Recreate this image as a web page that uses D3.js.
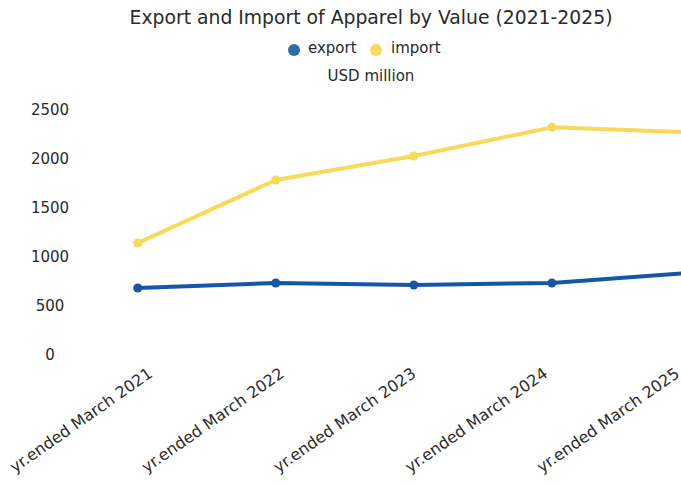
<!DOCTYPE html>
<html><head><meta charset="utf-8">
<script src="https://cdn.jsdelivr.net/npm/d3@7"></script>
<style>body{margin:0;background:#fff;overflow:hidden}svg{display:block;font-family:"DejaVu Sans",Verdana,sans-serif}</style>
</head><body><svg id="c" width="681" height="485"></svg>
<script>
const categories = ["yr.ended March 2021","yr.ended March 2022","yr.ended March 2023","yr.ended March 2024","yr.ended March 2025"];
const exportValues = [684, 735, 714, 735, 838];
const importValues = [1143, 1786, 2031, 2323, 2272];
const yTicks = [0, 500, 1000, 1500, 2000, 2500];
const seriesNames = ["export", "import"];
const lineColors = ["#1655a8", "#f7da58"];
const legendColors = ["#2e6ba9", "#f7dc5c"];

const svg = d3.select("#c");
const x = d3.scalePoint().domain(categories).range([137.7, 690]);
const xLabel = d3.scalePoint().domain(categories).range([153, 680]);
const y = d3.scaleLinear().domain([0, 2500]).range([355, 110]);
const txt = "#2a2a2a";

svg.append("text").attr("x", 371).attr("y", 24).attr("text-anchor", "middle")
  .attr("font-size", 18.8).attr("fill", txt).text("Export and Import of Apparel by Value (2021-2025)");

// legend
const lg = svg.append("g");
const legendPos = [[294, 308], [376, 391]];
seriesNames.forEach((n, i) => {
  lg.append("circle").attr("cx", legendPos[i][0]).attr("cy", 50).attr("r", 6).attr("fill", legendColors[i]);
  lg.append("text").attr("x", legendPos[i][1]).attr("y", 53).attr("font-size", 15).attr("fill", txt).text(n);
});
svg.append("text").attr("x", 371).attr("y", 81).attr("text-anchor", "middle").attr("font-size", 15).attr("fill", txt).text("USD million");

// y axis
const yAxis = svg.append("g").attr("transform", "translate(50,0)")
  .call(d3.axisLeft(y).tickValues(yTicks).tickSize(0).tickPadding(0).tickFormat(d3.format("d")));
yAxis.select(".domain").remove();
yAxis.selectAll("text").attr("font-size", 15).attr("fill", txt).attr("text-anchor", "middle")
  .attr("font-family", "DejaVu Sans, Verdana, sans-serif");

// x axis labels
const xAxis = svg.append("g").attr("transform", "translate(0,376)")
  .call(d3.axisBottom(xLabel).tickSize(0).tickPadding(0));
xAxis.select(".domain").remove();
xAxis.selectAll("text").attr("font-size", 16).attr("fill", txt).attr("font-family", "DejaVu Sans, Verdana, sans-serif")
  .attr("text-anchor", "end").attr("y", 0).attr("dy", 0).attr("transform", "rotate(-35)");

const data = [exportValues, importValues];
const line = d3.line().x((d, i) => x(categories[i])).y(d => y(d));
[1, 0].forEach(s => {
  svg.append("path").datum(data[s]).attr("d", line).attr("fill", "none")
    .attr("stroke", lineColors[s]).attr("stroke-width", 4).attr("stroke-linejoin", "round");
  svg.selectAll(null).data(data[s]).enter().append("circle")
    .attr("cx", (d, i) => x(categories[i])).attr("cy", d => y(d)).attr("r", 4.5).attr("fill", lineColors[s]);
});
</script></body></html>
